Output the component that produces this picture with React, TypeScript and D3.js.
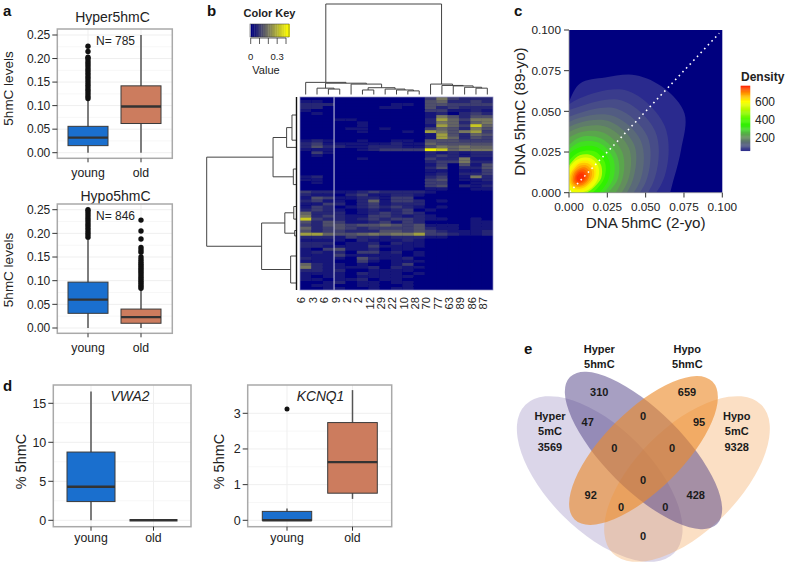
import React from "react";
import * as d3 from "d3";

const FONT = "'Liberation Sans', Arial, sans-serif";
const groups = ["young", "old"];
const BLUE = "#1a6fce";
const TERRA = "#cc7c5e";

// ---------- panel a data
const ageTicks = [0, 0.05, 0.1, 0.15, 0.2, 0.25];
const hyperYoung = { q1: 0.015, med: 0.032, q3: 0.056, lo: 0, hi: 0.115 };
const hyperOld = { q1: 0.062, med: 0.098, q3: 0.142, lo: 0, hi: 0.25 };
const hypoYoung = { q1: 0.031, med: 0.06, q3: 0.097, lo: 0, hi: 0.19 };
const hypoOld = { q1: 0.01, med: 0.023, q3: 0.04, lo: 0, hi: 0.083 };
const hyperYoungOut = [0.115, 0.12, 0.125, 0.13, 0.135, 0.14, 0.145, 0.15, 0.155, 0.16, 0.165, 0.17, 0.175, 0.18, 0.185, 0.19, 0.195, 0.2, 0.203, 0.215, 0.226];
const hypoYoungOut = [0.192, 0.197, 0.202, 0.207, 0.212, 0.217, 0.222, 0.227, 0.232, 0.237, 0.242, 0.247, 0.25];
const hypoOldOut = [0.084, 0.088, 0.092, 0.096, 0.1, 0.104, 0.108, 0.112, 0.116, 0.12, 0.124, 0.128, 0.132, 0.136, 0.14, 0.145, 0.15, 0.16, 0.165, 0.17, 0.188, 0.205, 0.228];

// ---------- panel d data
const vwaTicks = [0, 5, 10, 15];
const kcnTicks = [0, 1, 2, 3];
const vwaYoung = { q1: 2.4, med: 4.3, q3: 8.75, lo: 0, hi: 16.5 };
const vwaOld = { q1: 0, med: 0, q3: 0, lo: 0, hi: 0 };
const kcnYoung = { q1: 0, med: 0, q3: 0.25, lo: 0, hi: 0.33 };
const kcnOld = { q1: 0.76, med: 1.63, q3: 2.74, lo: 0.6, hi: 3.65 };
const kcnYoungOut = [3.12];

// ---------- panel b data
const heatColumns = ["6", "3", "6", "9", "2", "2", "12", "29", "22", "10", "28", "70", "77", "63", "89", "86", "87"];
const heatRows = [
  "00000000000363222", "11000000000452232", "22200000110443333", "22000001100423222",
  "10000000000331121", "01000000000120232", "00000000000164244", "00011000000275366",
  "00000100000265256", "00000100000175385", "00001101000354264", "00000100010764673",
  "00000000000174254", "00000000000175243", "12100100110444333", "23111111211544444",
  "24221122211465655", "11100123333985666", "03100000000212122", "01000000000232122",
  "00000100000322611", "00000000000233622", "00000000000130414", "00000000000240224",
  "00000000000110113", "00000000000120223", "12000000000230162", "11000000000340112",
  "01000000000330011", "00000000000340212", "00000000000110011", "32211232222100000",
  "21102311221000000", "14311221330000000", "23110251332010000", "11320231222000000",
  "13201232321010000", "23210121230100000", "52220123232000000", "62321133212100000",
  "83221232332110010", "42431123132000011", "32443445434111011", "52343233334211011",
  "42332224434321112", "77544565667332112", "22213221222110000", "11110211121000000",
  "22201120211000000", "22111131111000000", "10341120110000000", "12120331201000000",
  "11131111101000000", "21110421120000000", "11100310111000000", "52110100130000000",
  "62111120211000000", "22120011110000000", "11110211101000000", "10110111110000000",
  "11011201100000000", "00120110110000000", "01100110010000000", "00110010110000000",
];
type T = number | { h: number; c: T[] };
const columnTree: T = {
  h: 1,
  c: [
    { h: 0.134, c: [0, { h: 0.125, c: [
      { h: 0.07, c: [1, { h: 0.06, c: [2, 3] }] },
      { h: 0.115, c: [4, { h: 0.075, c: [
        { h: 0.05, c: [5, 6] },
        { h: 0.06, c: [7, { h: 0.05, c: [8, { h: 0.04, c: [9, 10] }] }] },
      ] }] },
    ] }] },
    { h: 0.115, c: [11, { h: 0.1, c: [12, { h: 0.095, c: [13, { h: 0.08, c: [14, { h: 0.07, c: [15, 16] }] }] }] }] },
  ],
};
const rowTree: T = {
  h: 1,
  c: [
    { h: 0.257, c: [
      { h: 0.105, c: [{ h: 0.045, c: [6, 14.4] }, 16.8] },
      { h: 0.03, c: [24, 29.2] },
    ] },
    { h: 0.385, c: [
      { h: 0.125, c: [{ h: 0.025, c: [36.5, 40.7] }, { h: 0.015, c: [44.5, 46.3] }] },
      { h: 0.06, c: [53, 62] },
    ] },
  ],
};
const keyTicks = [0, 0.1, 0.2, 0.3, 0.4];

// ---------- panel c data (density contour radii, thousandths, every 30 degrees)
const densityTicks = [0, 0.025, 0.05, 0.075, 0.1];
const densityLegend = [200, 400, 600];
const outerContour = [61.5, 68.5, 79, 78, 73, 64, 58, 42, 40, 40, 40, 40, 40, 40, 40, 40, 40, 40, 40, 40, 40, 45, 50, 58];
const densityLevels: [number, number[]][] = [
  [65, [55, 64, 62, 49, 40, 36, 36, 36, 36, 36, 36, 43]],
  [85, [49, 57, 55, 44, 40, 34, 34, 34, 34, 34, 34, 40]],
  [110, [44, 51, 49, 40, 36, 32, 32, 32, 32, 32, 32, 36]],
  [135, [40, 46, 44, 37, 33, 30, 30, 30, 30, 30, 30, 33]],
  [165, [35, 41, 40, 34, 30, 27, 27, 27, 27, 27, 27, 30]],
  [195, [32, 37, 36, 31, 27, 24, 24, 24, 24, 24, 24, 27]],
  [230, [28, 32, 32, 28, 24, 21, 21, 21, 21, 21, 21, 24]],
  [265, [25, 28, 28, 25, 20, 18, 18, 18, 18, 18, 18, 20]],
  [300, [22, 25, 25, 22, 18, 16, 16, 16, 16, 16, 16, 18]],
  [345, [19, 22, 22, 19, 16, 14, 14, 14, 14, 14, 14, 16]],
  [400, [16, 19, 19, 16, 13, 12, 12, 13, 13, 12, 12, 13]],
  [520, [14, 16, 16, 14, 11, 10, 10, 11, 11, 10, 10, 11]],
  [580, [12, 14, 14, 12, 10, 9, 9, 10, 10, 9, 9, 10]],
  [620, [10, 12, 12, 10, 8, 7.5, 7.5, 8, 8, 7.5, 7.5, 8]],
  [650, [9, 10.5, 10.5, 9, 7, 6.5, 6.5, 7, 7, 6.5, 6.5, 7]],
  [680, [7.5, 9, 9, 7.5, 6, 5.5, 5.5, 6, 6, 5.5, 5.5, 6]],
  [710, [6, 7.5, 7.5, 6, 5, 4.5, 4.5, 5, 5, 4.5, 4.5, 5]],
  [730, [5, 6, 6, 5, 4, 3.5, 3.5, 4, 4, 3.5, 3.5, 4]],
  [750, [3.8, 4.5, 4.5, 3.8, 3, 2.8, 2.8, 3, 3, 2.8, 2.8, 3]],
  [765, [2.6, 3.2, 3.2, 2.6, 2, 1.9, 1.9, 2, 2, 1.9, 1.9, 2]],
];
const densityStops = [0, 40, 65, 85, 110, 135, 165, 195, 230, 265, 300, 345, 400, 520, 600, 690, 776];
const densityColors = ["#00007f", "#2a2a8e", "#3a3c8c", "#474c88", "#525c82", "#5a6a78", "#5f7c6a", "#628e5c", "#5aa64c", "#4ec43c", "#40e020", "#30f000", "#50f800", "#c0fa00", "#ffff00", "#ff9a00", "#ff2000"];
const densityColor = d3.scaleLinear<string>().domain(densityStops).range(densityColors);

// ---------- panel e data
const vennCounts = ["310", "659", "47", "0", "95", "0", "0", "0", "92", "428", "0", "0", "0"];
const vennSetLabels = [["Hyper", "5hmC"], ["Hypo", "5hmC"], ["Hyper", "5mC", "3569"], ["Hypo", "5mC", "9328"]];

// ---------- helpers
const Txt = (p: any) => <text fontFamily={FONT} fill="#222" {...p} />;

function Frame({ x0, x1, y0, y1, y, ticks, fmt, xs, labelGap = 18.5, tickSize = 12 }: any) {
  const minors = d3.pairs(ticks as number[]).map(([a, b]) => (a + b) / 2);
  return (
    <g>
      <rect x={x0} y={y0} width={x1 - x0} height={y1 - y0} fill="#fff" />
      {minors.map((t: number, i: number) => <line key={i} x1={x0} x2={x1} y1={y(t)} y2={y(t)} stroke="#f7f7f7" />)}
      {ticks.map((t: number) => <line key={t} x1={x0} x2={x1} y1={y(t)} y2={y(t)} stroke="#efefef" />)}
      {groups.map((g) => <line key={g} x1={xs(g)} x2={xs(g)} y1={y0} y2={y1} stroke="#efefef" />)}
      <rect x={x0} y={y0} width={x1 - x0} height={y1 - y0} fill="none" stroke="#a9a9a9" strokeWidth={1.5} />
      {ticks.map((t: number) => (
        <g key={t}>
          <line x1={x0 - 5} x2={x0} y1={y(t)} y2={y(t)} stroke="#333" strokeWidth={1} />
          <Txt x={x0 - 7} y={y(t) + 4.3} textAnchor="end" fontSize={tickSize}>{fmt(t)}</Txt>
        </g>
      ))}
      {groups.map((g) => (
        <g key={g}>
          <line x1={xs(g)} x2={xs(g)} y1={y1} y2={y1 + 4} stroke="#333" strokeWidth={1} />
          <Txt x={xs(g)} y={y1 + labelGap} textAnchor="middle" fontSize={12.3}>{g}</Txt>
        </g>
      ))}
    </g>
  );
}

function Box({ cx, hw, s, y, fill, out = [], r = 2.7 }: any) {
  return (
    <g>
      <line x1={cx} x2={cx} y1={y(s.lo)} y2={y(s.hi)} stroke="#555" strokeWidth={1.5} />
      <rect x={cx - hw} y={y(s.q3)} width={2 * hw} height={y(s.q1) - y(s.q3)} fill={fill} stroke="#3a3a3a" strokeWidth={1} />
      <line x1={cx - hw} x2={cx + hw} y1={y(s.med)} y2={y(s.med)} stroke="#333" strokeWidth={2.4} />
      {out.map((v: number, i: number) => <circle key={i} cx={cx} cy={y(v)} r={r} fill="#111" />)}
    </g>
  );
}

function treeSegs(node: T, pos: (l: number) => number, hs: (h: number) => number, out: [number, number, number, number][]): [number, number] {
  if (typeof node === "number") return [pos(node), hs(0)];
  const kids = node.c.map((k) => treeSegs(k, pos, hs, out));
  const h = hs(node.h);
  const p = d3.mean(kids, (k) => k[0]) as number;
  kids.forEach(([kp, kh]) => out.push([kp, kh, kp, h]));
  const ext = d3.extent(kids, (k) => k[0]) as [number, number];
  out.push([ext[0], h, ext[1], h]);
  return [p, h];
}

function Heatmap() {
  const x = d3.scaleBand<number>().domain(d3.range(heatColumns.length)).range([300, 493]);
  const y = d3.scaleBand<number>().domain(d3.range(heatRows.length)).range([97, 290]);
  const col = d3.scaleLinear<string>().domain([0, 6, 9]).range(["#00007f", "#77775f", "#f0f000"]);
  const keyX = d3.scaleLinear().domain([0, 0.4]).range([250.7, 286]);
  const keyCol = d3.scaleLinear<string>().domain([0, 0.19, 0.42]).range(["#00007f", "#77775f", "#ffff00"]);
  const colSegs: [number, number, number, number][] = [];
  treeSegs(columnTree, (l) => (x(l) as number) + x.bandwidth() / 2, d3.scaleLinear().domain([0, 1]).range([94.5, 4]), colSegs);
  const rowSegs: [number, number, number, number][] = [];
  treeSegs(rowTree, d3.scaleLinear().domain([0, 64]).range([97, 289]), d3.scaleLinear().domain([0, 1]).range([296, 206.7]), rowSegs);
  const keySteps = d3.range(0, 0.44, 0.02);
  return (
    <g>
      <defs>
        <filter id="soft" x="0" y="0" width="100%" height="100%"><feGaussianBlur stdDeviation="0.45" /></filter>
        <clipPath id="heatclip"><rect x={300} y={97} width={193} height={193} /></clipPath>
      </defs>
      <g clipPath="url(#heatclip)">
        <g filter="url(#soft)">
          <rect x={299} y={96} width={195} height={195} fill="#00007f" />
          {heatRows.map((row, r) =>
            row.split("").map((v, c) => (
              <rect key={r + "-" + c} x={x(c)} y={y(r)} width={x.bandwidth() + 0.3} height={y.bandwidth() + 0.3} fill={col(+v)} />
            ))
          )}
        </g>
      </g>
      <line x1={x(3)} x2={x(3)} y1={97} y2={290} stroke="#cfcfe0" strokeWidth={1} />
      <rect x={300} y={97} width={193} height={193} fill="none" stroke="#8f8fc0" strokeWidth={0.7} />
      {colSegs.map((s, i) => <line key={i} x1={s[0]} y1={s[1]} x2={s[2]} y2={s[3]} stroke="#444" strokeWidth={1} />)}
      {rowSegs.map((s, i) => <line key={i} x1={s[1]} y1={s[0]} x2={s[3]} y2={s[2]} stroke="#444" strokeWidth={1} />)}
      <line x1={296.5} x2={296.5} y1={97} y2={290} stroke="#111" strokeWidth={1.4} />
      {heatColumns.map((l, i) => (
        <Txt key={i} transform={`translate(${(x(i) as number) + x.bandwidth() / 2 - 0.2},297) rotate(-90)`} textAnchor="end" fontSize={11.2}>{l}</Txt>
      ))}
      {keySteps.map((v) => (
        <rect key={v} x={keyX(v)} y={24} width={keyX(0.02) - keyX(0) + 0.4} height={13} fill={keyCol(v)} />
      ))}
      <rect x={250} y={24} width={39} height={13} fill="none" stroke="#333" strokeWidth={0.5} />
      {keyTicks.map((t) => <line key={t} x1={keyX(t)} x2={keyX(t)} y1={38} y2={44} stroke="#333" strokeWidth={0.8} />)}
      <line x1={keyX(0)} x2={keyX(0.4)} y1={38} y2={38} stroke="#333" strokeWidth={0.8} />
      <Txt x={keyX(0)} y={60} textAnchor="middle" fontSize={9.5}>0</Txt>
      <Txt x={keyX(0.3)} y={60} textAnchor="middle" fontSize={9.5}>0.3</Txt>
      <Txt x={266} y={74} textAnchor="middle" fontSize={11}>Value</Txt>
      <Txt x={269.5} y={17} textAnchor="middle" fontSize={11} fontWeight="bold">Color Key</Txt>
    </g>
  );
}

function DensityPanel() {
  const x = d3.scaleLinear().domain([0, 0.1]).range([569, 722.3]);
  const y = d3.scaleLinear().domain([0, 0.1]).range([192.7, 30]);
  const cx = 0.007, cy = 0.009;
  const shape = d3.line<[number, number]>().x((d) => x(d[0])).y((d) => y(d[1])).curve(d3.curveCatmullRomClosed.alpha(0.5));
  const outline = (r: number[]) =>
    shape(r.map((v, i): [number, number] => {
      const a = (i / r.length) * 2 * Math.PI;
      return [cx + (v / 1000) * Math.cos(a), cy + (v / 1000) * Math.sin(a)];
    })) as string;
  const legendY = d3.scaleLinear().domain([200, 600]).range([137.3, 101.7]);
  const legendSteps = d3.range(50, 780, 10);
  const f = d3.format(".3f");
  return (
    <g>
      <defs><clipPath id="cclip"><rect x={569} y={30} width={153.3} height={162.7} /></clipPath></defs>
      <rect x={569} y={30} width={153.3} height={162.7} fill={densityColor(0)} />
      <g clipPath="url(#cclip)">
        <path d={outline(outerContour)} fill={densityColor(40)} />
        {densityLevels.map(([d, r]) => <path key={d} d={outline(r)} fill={densityColor(d)} />)}
      </g>
      <line x1={x(0.0005)} y1={y(0.0005)} x2={x(0.098)} y2={y(0.098)} stroke="#fff" strokeWidth={1.6} strokeDasharray="1.6 3.7" />
      <path d={`M569,30V192.7H722.3`} fill="none" stroke="#9a9a9a" strokeWidth={0.8} />
      {densityTicks.map((t) => (
        <g key={t}>
          <line x1={564} x2={569} y1={y(t)} y2={y(t)} stroke="#333" />
          <line x1={x(t)} x2={x(t)} y1={192.7} y2={197.5} stroke="#333" />
          <Txt x={561} y={y(t) + 4.3} textAnchor="end" fontSize={11.8}>{f(t)}</Txt>
          <Txt x={x(t)} y={211} textAnchor="middle" fontSize={11.8}>{f(t)}</Txt>
        </g>
      ))}
      <Txt x={645.7} y={227.5} textAnchor="middle" fontSize={15.2}>DNA 5hmC (2-yo)</Txt>
      <Txt transform="translate(525,111.5) rotate(-90)" textAnchor="middle" fontSize={15.2}>DNA 5hmC (89-yo)</Txt>
      <Txt x={741} y={81} fontSize={12} fontWeight="bold">Density</Txt>
      {legendSteps.map((d) => (
        <rect key={d} x={740.7} y={legendY(d + 10)} width={9.5} height={legendY(d) - legendY(d + 10) + 0.4} fill={densityColor(d)} />
      ))}
      {densityLegend.map((d) => (
        <Txt key={d} x={755} y={legendY(d) + 4.3} fontSize={12}>{d}</Txt>
      ))}
    </g>
  );
}

function Venn() {
  const vx = d3.scaleLinear().domain([0, 285]).range([500, 785]);
  const vy = d3.scaleLinear().domain([0, 233]).range([330, 563]);
  const sets = [
    { cx: 99.7, cy: 149, a: 105, b: 52, rot: 45, fill: "#7a68ad", op: 0.27 },
    { cx: 187, cy: 149, a: 105, b: 52, rot: -45, fill: "#f5a65b", op: 0.36 },
    { cx: 143.5, cy: 120.5, a: 104, b: 39.5, rot: 45, fill: "#4f4085", op: 0.5 },
    { cx: 143.5, cy: 120.5, a: 97.5, b: 39.5, rot: -45, fill: "#ec8a2a", op: 0.62 },
  ];
  const countSpots = [[99.3, 62], [187, 62], [87.7, 91.7], [143, 85.7], [199, 91.7], [114.3, 118], [172, 118], [143, 150.3], [90.7, 164.7], [195.7, 164.7], [121, 176.7], [165.3, 176.7], [143, 205.7]];
  const setSpots = [[99.3, 22.7, 15.3], [187.3, 22.7, 15.3], [50, 90, 15.3], [236.7, 90, 15.3]];
  return (
    <g>
      {sets.map((s, i) => (
        <ellipse key={i} transform={`translate(${vx(s.cx)},${vy(s.cy)}) rotate(${s.rot})`} rx={s.a} ry={s.b} fill={s.fill} fillOpacity={s.op} />
      ))}
      {vennCounts.map((c, i) => (
        <Txt key={i} x={vx(countSpots[i][0])} y={vy(countSpots[i][1]) + 3.8} textAnchor="middle" fontSize={11} fontWeight="bold" fill="#1a1a1a">{c}</Txt>
      ))}
      {vennSetLabels.map((ls, i) =>
        ls.map((l, j) => (
          <Txt key={j + "-" + i} x={vx(setSpots[i][0])} y={vy(setSpots[i][1]) + j * setSpots[i][2]} textAnchor="middle" fontSize={11} fontWeight="bold" fill="#1a1a1a">{l}</Txt>
        ))
      )}
    </g>
  );
}

export default function App() {
  const ya1 = d3.scaleLinear().domain([0, 0.25]).range([152.7, 35]);
  const ya2 = d3.scaleLinear().domain([0, 0.25]).range([328, 209.7]);
  const xa = d3.scalePoint<string>().domain(groups).range([88, 141]);
  const yd1 = d3.scaleLinear().domain([0, 15]).range([520.3, 403.3]);
  const yd2 = d3.scaleLinear().domain([0, 3]).range([520.3, 413.3]);
  const xd1 = d3.scalePoint<string>().domain(groups).range([91, 153.5]);
  const xd2 = d3.scalePoint<string>().domain(groups).range([287, 352.5]);
  const fa = d3.format(".2f");
  const fd = d3.format("d");
  return (
    <svg width={785} height={563} style={{ position: "absolute", left: 0, top: 0, background: "#fff" }}>
      {/* a */}
      <Txt x={3} y={16} fontSize={15} fontWeight="bold" fill="#111">a</Txt>
      <Txt x={112.5} y={21.5} textAnchor="middle" fontSize={14}>Hyper5hmC</Txt>
      <Frame x0={57.3} x1={172.3} y0={29} y1={158.3} y={ya1} ticks={ageTicks} fmt={fa} xs={xa} />
      <Box cx={xa("young")} hw={20} s={hyperYoung} y={ya1} fill={BLUE} out={hyperYoungOut} />
      <Box cx={xa("old")} hw={20} s={hyperOld} y={ya1} fill={TERRA} />
      <Txt x={115.5} y={44.5} textAnchor="middle" fontSize={12}>N= 785</Txt>
      <Txt transform="translate(12.5,88.5) rotate(-90)" textAnchor="middle" fontSize={13.5}>5hmC levels</Txt>

      <Txt x={115.5} y={200.5} textAnchor="middle" fontSize={14}>Hypo5hmC</Txt>
      <Frame x0={57.3} x1={172.3} y0={204} y1={333.3} y={ya2} ticks={ageTicks} fmt={fa} xs={xa} />
      <Box cx={xa("young")} hw={20} s={hypoYoung} y={ya2} fill={BLUE} out={hypoYoungOut} />
      <Box cx={xa("old")} hw={20} s={hypoOld} y={ya2} fill={TERRA} out={hypoOldOut} />
      <Txt x={115.5} y={219.5} textAnchor="middle" fontSize={12}>N= 846</Txt>
      <Txt transform="translate(12.5,270) rotate(-90)" textAnchor="middle" fontSize={13.5}>5hmC levels</Txt>

      {/* b */}
      <Txt x={207} y={16} fontSize={15} fontWeight="bold" fill="#111">b</Txt>
      <Heatmap />

      {/* c */}
      <Txt x={514} y={16} fontSize={15} fontWeight="bold" fill="#111">c</Txt>
      <DensityPanel />

      {/* d */}
      <Txt x={3} y={391} fontSize={15} fontWeight="bold" fill="#111">d</Txt>
      <Frame x0={53.3} x1={191} y0={385} y1={526.7} y={yd1} ticks={vwaTicks} fmt={fd} xs={xd1} labelGap={15} tickSize={12.5} />
      <Box cx={xd1("young")} hw={24} s={vwaYoung} y={yd1} fill={BLUE} />
      <Box cx={xd1("old")} hw={24} s={vwaOld} y={yd1} fill={TERRA} />
      <Txt x={130} y={401} textAnchor="middle" fontSize={13.8} fontStyle="italic">VWA2</Txt>
      <Txt transform="translate(26,461.5) rotate(-90)" textAnchor="middle" fontSize={14.5}>% 5hmC</Txt>

      <Frame x0={247.7} x1={391.7} y0={385} y1={526.7} y={yd2} ticks={kcnTicks} fmt={fd} xs={xd2} labelGap={15} tickSize={12.5} />
      <Box cx={xd2("young")} hw={24.7} s={kcnYoung} y={yd2} fill={BLUE} out={kcnYoungOut} r={2.5} />
      <Box cx={xd2("old")} hw={24.8} s={kcnOld} y={yd2} fill={TERRA} />
      <Txt x={320.5} y={401} textAnchor="middle" fontSize={13.8} fontStyle="italic">KCNQ1</Txt>
      <Txt transform="translate(224,461.5) rotate(-90)" textAnchor="middle" fontSize={14.5}>% 5hmC</Txt>

      {/* e */}
      <Txt x={524} y={354} fontSize={15} fontWeight="bold" fill="#111">e</Txt>
      <Venn />
    </svg>
  );
}
